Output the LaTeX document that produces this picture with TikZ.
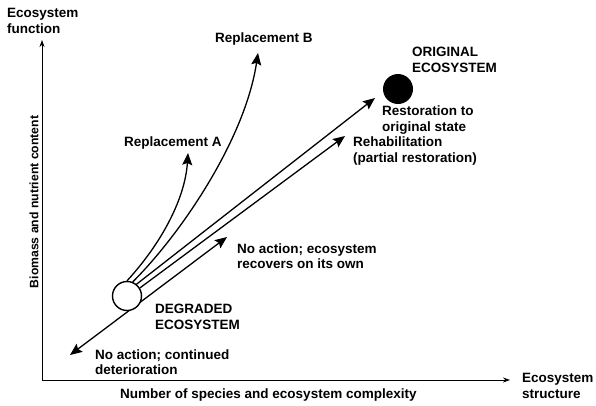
\documentclass[tikz,border=0pt]{standalone}
\usepackage{fontspec}
\setmainfont{Liberation Sans}
\usetikzlibrary{arrows.meta}
\begin{document}
\begin{tikzpicture}[x=1pt,y=-1pt,
  lbl/.style={font=\bfseries\fontsize{13.5}{15.5}\selectfont, inner sep=0pt, align=left, anchor=west},
  trail/.style={line width=1.3pt},
  big/.style={-{Stealth[length=12pt,width=10pt,inset=2pt]}},
  bothbig/.style={{Stealth[length=12pt,width=10pt,inset=2pt]}-{Stealth[length=12pt,width=10pt,inset=2pt]}},
  ax/.style={line width=0.8pt, -{Stealth[length=7pt,width=5pt]}}]
\useasboundingbox (0,0) rectangle (596,405);
% axes
\coordinate (O) at (42,380);
\coordinate (ytop) at (42,40);
\coordinate (xend) at (510,380);
\draw[ax] (O) -- (ytop);
\draw[ax] (O) -- (xend);
\node[lbl] (yl) at (7,21) {Ecosystem\\function};
\node[lbl] (xl) at (522,386) {Ecosystem\\structure};
\node[lbl] (xt) at (120,395) {Number of species and ecosystem complexity};
\node[lbl, font=\bfseries\fontsize{12.2}{14}\selectfont, anchor=center, rotate=90] (yt) at (34,202) {Biomass and nutrient content};
% trajectories
\coordinate (dl) at (70,355);
\coordinate (nr) at (227,237);
\coordinate (resto) at (375,98);
\coordinate (rehab) at (345,136);
\coordinate (repA) at (188,153);
\coordinate (repB) at (258,53);
\draw[trail,bothbig] (dl) -- (nr);
\node[circle, draw, line width=1.4pt, fill=white, minimum size=29pt, inner sep=0pt] (deg) at (127,296) {};
\node[circle, fill=black, minimum size=30pt, inner sep=0pt] (orig) at (398,89) {};
\draw[trail,big] (deg.51) -- (resto);
\draw[trail,big] (deg.32) -- (rehab);
\draw[trail,big] (deg.90) .. controls (160,245) and (185,200) .. (repA);
\draw[trail,big] (deg.68) .. controls (180,235) and (245,140) .. (repB);
% labels
\node[lbl] (lB) at (215,39) {Replacement B};
\node[lbl] (lA) at (124,143) {Replacement A};
\node[lbl] (lO) at (412,60) {ORIGINAL\\ECOSYSTEM};
\node[lbl] (lR) at (382,120) {Restoration to\\original state};
\node[lbl] (lH) at (353,151) {Rehabilitation\\(partial restoration)};
\node[lbl] (lN) at (237,256) {No action; ecosystem\\recovers on its own};
\node[lbl] (lD) at (155,317) {DEGRADED\\ECOSYSTEM};
\node[lbl] (lC) at (95,362) {No action; continued\\deterioration};
\end{tikzpicture}
\end{document}
